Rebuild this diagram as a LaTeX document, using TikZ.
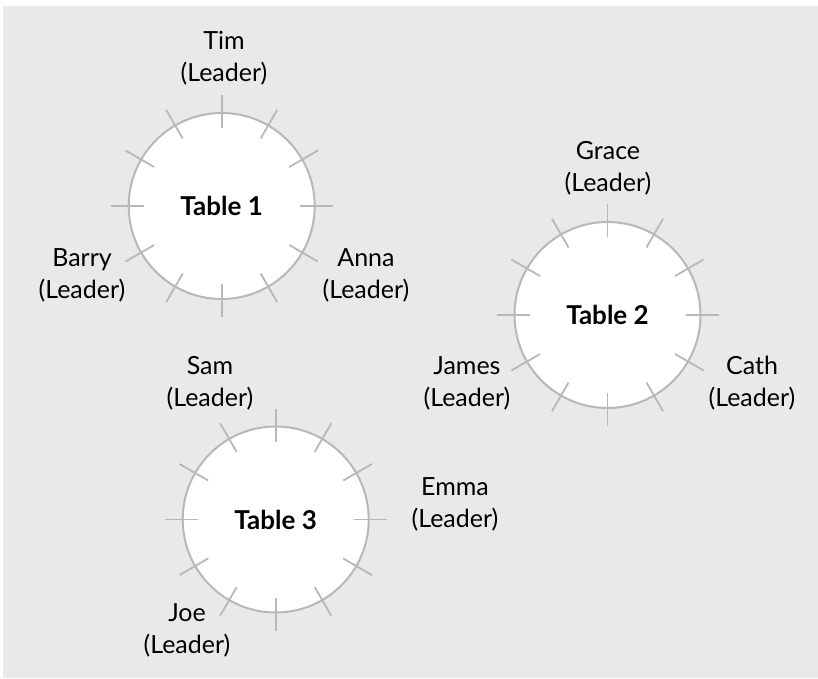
\documentclass[tikz,border=0pt]{standalone}
\usepackage{fontspec}
\setmainfont{Lato}
\definecolor{bggray}{HTML}{E9E9E9}
\definecolor{rimgray}{HTML}{B8B8B8}
\begin{document}
\begin{tikzpicture}[x=1pt,y=-1pt,
  tablec/.style={circle, draw=rimgray, line width=2pt, fill=white, minimum size=186pt, inner sep=0pt,
                 font=\fontsize{26}{32}\selectfont\bfseries},
  seatmark/.style={draw=rimgray, line width=1.8pt},
  person/.style={align=center, inner sep=0pt, font=\fontsize{25}{32}\selectfont, text=black}]
\useasboundingbox (0,0) rectangle (818,678);
\fill[white] (0,0) rectangle (818,678);
\fill[bggray] (3,6) rectangle (818,678);

\node[tablec] (t1) at (221.7,206) {Table 1};
\node[tablec] (t2) at (607.5,315) {Table 2};
\node[tablec] (t3) at (275.7,519.5) {Table 3};

\foreach \t in {t1,t2,t3}{
  \foreach \a in {0,30,...,330}{
    \draw[seatmark] ([shift={(\a:78pt)}]\t.center) -- ([shift={(\a:111pt)}]\t.center);
  }
}

\node[person] (tim) at (224,58) {Tim\\(Leader)};
\node[person] (barry) at (82,275) {Barry\\(Leader)};
\node[person] (anna) at (366,275) {Anna\\(Leader)};
\node[person] (grace) at (608,168) {Grace\\(Leader)};
\node[person] (james) at (467,383) {James\\(Leader)};
\node[person] (cath) at (752,383) {Cath\\(Leader)};
\node[person] (sam) at (210,383) {Sam\\(Leader)};
\node[person] (emma) at (455,504) {Emma\\(Leader)};
\node[person] (joe) at (187,630) {Joe\\(Leader)};
\end{tikzpicture}
\end{document}
